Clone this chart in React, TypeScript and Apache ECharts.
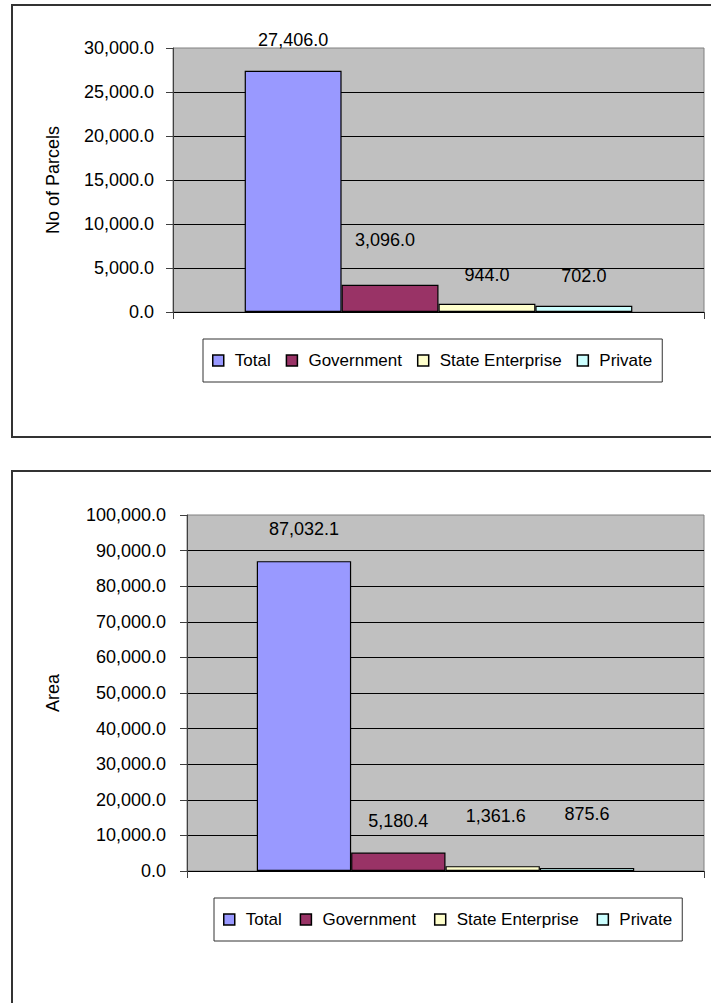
import React, { useEffect, useRef } from "react";
import * as echarts from "echarts";

const seriesNames = ["Total", "Government", "State Enterprise", "Private"];
const seriesColors = ["#9999FF", "#993366", "#FFFFCC", "#CCFFFF"];
const categories = [""];
const parcelValues = [27406.0, 3096.0, 944.0, 702.0];
const areaValues = [87032.1, 5180.4, 1361.6, 875.6];
const parcelAxis = { min: 0, max: 30000, interval: 5000, name: "No of Parcels" };
const areaAxis = { min: 0, max: 100000, interval: 10000, name: "Area" };

// label placement (styling, matches the original spreadsheet label positions)
const parcelLabelDist = [22, 36, 20, 21];
const parcelLabelDx = [0, -5, 0, 0];
const areaLabelDist = [23, 23, 41, 45];
const areaLabelDx = [0, 0, 3, 0];

const FONT = "'Liberation Sans', Arial, sans-serif";
const FS = 18;

const fmt = (v: number) =>
  Number(v).toLocaleString("en-US", { minimumFractionDigits: 1, maximumFractionDigits: 1 });

export default function App() {
  const ref = useRef<HTMLDivElement>(null);
  useEffect(() => {
    if (!ref.current) return;
    const chart = echarts.init(ref.current, null, { renderer: "svg" });

    const mkYAxis = (ax: any, gridIndex: number, nameGap: number, margin: number) => ({
      type: "value",
      gridIndex,
      min: ax.min,
      max: ax.max,
      interval: ax.interval,
      name: ax.name,
      nameLocation: "middle",
      nameGap,
      nameRotate: 90,
      nameTextStyle: { fontSize: FS, color: "#000", fontFamily: FONT },
      axisLine: { show: true, lineStyle: { color: "#404040", width: 1 } },
      axisTick: { show: true, length: 7, lineStyle: { color: "#404040" } },
      axisLabel: { fontSize: FS, color: "#000", fontFamily: FONT, margin, formatter: (v: number) => fmt(v) },
      splitLine: { show: true, showMaxLine: false, lineStyle: { color: "#000", width: 1 } },
    });

    const mkXAxis = (gridIndex: number) => ({
      type: "category",
      gridIndex,
      data: categories,
      axisLine: { show: true, lineStyle: { color: "#000", width: 1 } },
      axisTick: { show: true, length: 7, lineStyle: { color: "#404040" } },
      axisLabel: { show: false },
      splitLine: { show: false },
    });

    const mkSeries = (
      name: string,
      i: number,
      axisIndex: number,
      values: number[],
      dist: number[],
      dx: number[]
    ) => ({
      type: "bar",
      name,
      xAxisIndex: axisIndex,
      yAxisIndex: axisIndex,
      data: [values[i]],
      barGap: "0%",
      barCategoryGap: "27%",
      itemStyle: { color: seriesColors[i], borderColor: "#000", borderWidth: 1.2 },
      label: {
        show: true,
        position: "top",
        distance: dist[i],
        offset: [dx[i], 0],
        fontSize: FS,
        color: "#000",
        fontFamily: FONT,
        formatter: (p: any) => fmt(p.value),
      },
    });

    const series: any[] = [];
    seriesNames.forEach((name, i) => series.push(mkSeries(name, i, 0, parcelValues, parcelLabelDist, parcelLabelDx)));
    seriesNames.forEach((name, i) => series.push(mkSeries(name, i, 1, areaValues, areaLabelDist, areaLabelDx)));

    const mkLegend = (left: number, top: number, gap: number) => ({
      show: true,
      left,
      top,
      orient: "horizontal",
      data: seriesNames,
      icon: "rect",
      itemWidth: 11,
      itemHeight: 11,
      itemGap: gap,
      padding: [13, 10, 13, 9],
      borderColor: "#333",
      borderWidth: 1,
      backgroundColor: "#fff",
      selectedMode: false,
      itemStyle: { borderColor: "#000", borderWidth: 1.5 },
      textStyle: { fontSize: 17, color: "#000", fontFamily: FONT, padding: [0, 0, 0, 6] },
    });

    chart.setOption({
      animation: false,
      backgroundColor: "#fff",
      grid: [
        { left: 173, top: 48, right: 7, height: 264, show: true, backgroundColor: "#C0C0C0", borderColor: "#808080", borderWidth: 1 },
        { left: 187, top: 515, right: 7, height: 356, show: true, backgroundColor: "#C0C0C0", borderColor: "#808080", borderWidth: 1 },
      ],
      xAxis: [mkXAxis(0), mkXAxis(1)],
      yAxis: [mkYAxis(parcelAxis, 0, 111, 19), mkYAxis(areaAxis, 1, 125, 21)],
      legend: [mkLegend(203, 339, 15), mkLegend(214, 898, 18)],
      series,
      graphic: [
        { type: "rect", z: 100, silent: true, shape: { x: 12, y: 5, width: 720, height: 432 }, style: { fill: "none", stroke: "#333", lineWidth: 2 } },
        { type: "rect", z: 100, silent: true, shape: { x: 12, y: 471, width: 720, height: 620 }, style: { fill: "none", stroke: "#333", lineWidth: 2 } },
      ],
    });
    return () => chart.dispose();
  }, []);
  return (
    <div
      ref={ref}
      style={{ position: "absolute", left: 0, top: 0, width: 711, height: 1003 }}
    />
  );
}
